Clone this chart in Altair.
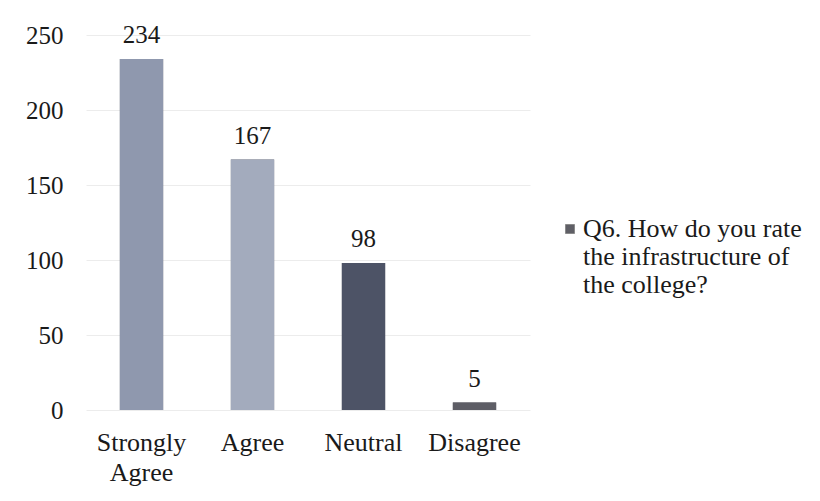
import altair as alt
import pandas as pd

categories = ["Strongly Agree", "Agree", "Neutral", "Disagree"]
counts = [234, 167, 98, 5]
bar_colors = ["#8f98ae", "#a3abbd", "#4d5366", "#5e5e66"]
series_name = "Q6. How do you rate the infrastructure of the college?"
y_ticks = [0, 50, 100, 150, 200, 250]

df = pd.DataFrame({"category": categories, "count": counts, "series": [series_name] * len(categories)})

FONT = "Liberation Serif"

x = alt.X("category:N", sort=categories, title=None,
          scale=alt.Scale(paddingInner=0.61, paddingOuter=0.305),
          axis=alt.Axis(labelAngle=0, labelFontSize=26, labelFont=FONT, labelColor="#1a1a1a",
                        labelPadding=19, domain=False, ticks=False, labelLimit=0,
                        labelExpr="split(datum.label, ' ')", labelLineHeight=30))
y = alt.Y("count:Q", title=None,
          scale=alt.Scale(domain=[0, 250], nice=False),
          axis=alt.Axis(values=y_ticks, labelFontSize=25, labelFont=FONT, labelColor="#1a1a1a",
                        labelPadding=23, domain=False, ticks=False, grid=True,
                        gridColor="#ececec", gridWidth=1))

legend_bars = alt.Chart(df).mark_bar().encode(
    x=x, y=y,
    color=alt.Color("series:N", title=None,
                    scale=alt.Scale(range=["#5f5f66"]),
                    legend=alt.Legend(orient="none", legendX=471, legendY=181, padding=0,
                                      symbolType="square", symbolSize=81,
                                      symbolStrokeColor="#8a8a8a", symbolStrokeWidth=1,
                                      labelFont=FONT, labelFontSize=26, labelColor="#1a1a1a",
                                      labelLimit=0, labelBaseline="middle",
                                      labelExpr="['Q6. How do you rate', 'the infrastructure of', 'the college?']",
                                      labelOffset=0)),
)

bars = alt.Chart(df).mark_bar().encode(
    x=x, y=y,
    fill=alt.Fill("category:N", sort=categories, legend=None,
                  scale=alt.Scale(domain=categories, range=bar_colors)),
)

labels = alt.Chart(df).mark_text(dy=-16, font=FONT, fontSize=25, color="#1a1a1a", baseline="alphabetic").encode(
    x=alt.X("category:N", sort=categories),
    y="count:Q",
    text="count:Q",
)

chart = alt.layer(legend_bars, bars, labels).resolve_scale(color="independent", fill="independent").properties(
    width=444, height=375,
    autosize=alt.AutoSizeParams(type="none"),
    padding={"left": 78, "top": 27, "right": 282, "bottom": 85},
    background="white",
).configure(font=FONT).configure_view(stroke=None)

chart.save("out.html", embed_options={"renderer": "svg", "actions": False})
